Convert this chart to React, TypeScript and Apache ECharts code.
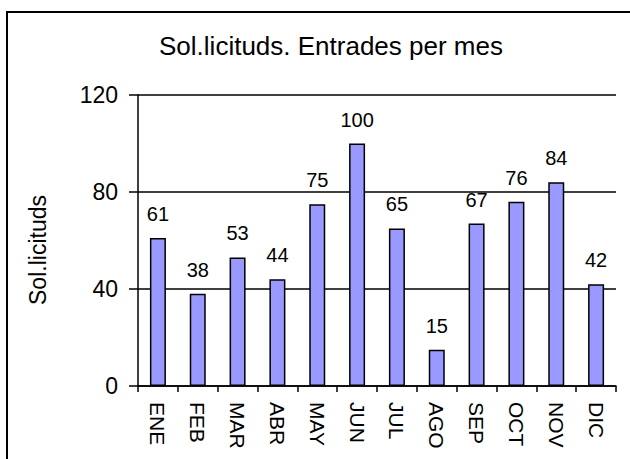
import React, { useEffect, useRef } from "react";
import * as echarts from "echarts";

const months = ["ENE", "FEB", "MAR", "ABR", "MAY", "JUN", "JUL", "AGO", "SEP", "OCT", "NOV", "DIC"];
const values = [61, 38, 53, 44, 75, 100, 65, 15, 67, 76, 84, 42];
const yTicks = { min: 0, max: 120, interval: 40 };
const titleText = "Sol.licituds. Entrades per mes";
const yName = "Sol.licituds";

const FONT = "'Liberation Sans', Arial, sans-serif";

export default function App() {
  const ref = useRef<HTMLDivElement>(null);
  useEffect(() => {
    if (!ref.current) return;
    const chart = echarts.init(ref.current, null, { renderer: "svg" });
    chart.setOption({
      animation: false,
      backgroundColor: "#ffffff",
      title: {
        text: titleText,
        left: 326,
        textAlign: "center",
        top: 28,
        textStyle: { fontFamily: FONT, fontSize: 26, fontWeight: "normal", color: "#000" },
      },
      graphic: [
        {
          type: "rect",
          shape: { x: 7, y: 12, width: 700, height: 500 },
          style: { fill: "none", stroke: "#000", lineWidth: 2 },
          silent: true,
          z: 100,
        },
        {
          type: "text",
          x: 38,
          y: 250,
          rotation: Math.PI / 2,
          style: {
            text: yName,
            fontFamily: FONT,
            fontSize: 23,
            fill: "#000",
            align: "center",
            verticalAlign: "middle",
          },
        },
      ],
      grid: { left: 138, right: 14, top: 95, bottom: 73 },
      xAxis: {
        type: "category",
        data: months,
        boundaryGap: true,
        axisLine: { lineStyle: { color: "#000", width: 1.5 } },
        axisTick: { show: true, interval: 0, length: 6, lineStyle: { color: "#000", width: 1.5 } },
        axisLabel: {
          interval: 0,
          rotate: -90,
          margin: 16,
          fontFamily: FONT,
          fontSize: 21,
          color: "#000",
        },
      },
      yAxis: {
        type: "value",
        min: yTicks.min,
        max: yTicks.max,
        interval: yTicks.interval,
        axisLine: { show: true, lineStyle: { color: "#000", width: 1.5 } },
        axisTick: { show: true, length: 9, lineStyle: { color: "#000", width: 1.5 } },
        axisLabel: { margin: 20, fontFamily: FONT, fontSize: 23, color: "#000" },
        splitLine: { show: true, lineStyle: { color: "#000", width: 1.5 } },
      },
      series: [
        {
          type: "bar",
          data: values,
          barWidth: 16,
          itemStyle: { color: "#9999FF", borderColor: "#000", borderWidth: 1.5 },
          label: {
            show: true,
            position: "top",
            distance: 14,
            fontFamily: FONT,
            fontSize: 20,
            color: "#000",
          },
        },
      ],
    });
    return () => chart.dispose();
  }, []);
  return (
    <div
      ref={ref}
      style={{ position: "fixed", left: 0, top: 0, width: 630, height: 459 }}
    />
  );
}
